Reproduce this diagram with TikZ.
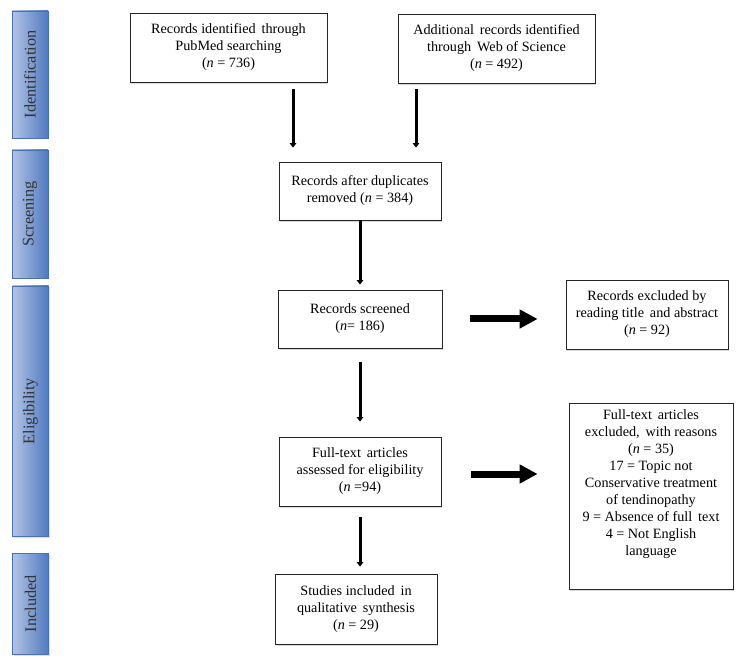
\documentclass[tikz,border=0pt]{standalone}
\usepackage{fontspec}
\setmainfont{Liberation Serif}
\usetikzlibrary{arrows.meta,shadows,calc}
\definecolor{barL}{RGB}{178,196,230}
\definecolor{barR}{RGB}{80,122,192}
\definecolor{barD}{RGB}{72,112,178}
\begin{document}
\begin{tikzpicture}[x=1pt,y=-1pt,
  box/.style={draw=black!85, line width=0.8pt, fill=white, align=center, inner sep=0pt,
    font=\fontsize{14.2}{17}\selectfont,
    drop shadow={shadow xshift=1.2pt,shadow yshift=-1.8pt,opacity=0.3}},
  bar/.style={draw=barD, line width=0.6pt, left color=barL, right color=barR, inner sep=0pt,
    minimum width=36pt,
    drop shadow={shadow xshift=1.2pt,shadow yshift=-1.5pt,opacity=0.25}},
  bartext/.style={rotate=90, font=\fontsize{16.3}{18}\selectfont, text=black!80},
  thinarrow/.style={line width=3pt, -{Triangle[width=6.5pt,length=4.5pt]}},
  blockarrow/.style={line width=7pt, -{Triangle[width=18pt,length=18pt]}}]
\useasboundingbox (0,0) rectangle (742,660);

% phase bars
\node[bar, minimum height=127pt, label={[bartext]center:Identification}] (pid) at (30,74.5) {};
\node[bar, minimum height=128pt, label={[bartext]center:Screening}] (psc) at (30,214) {};
\node[bar, minimum height=250pt, label={[bartext]center:Eligibility}] (pel) at (30.5,411) {};
\node[bar, minimum height=101pt, label={[bartext]center:Included}] (pin) at (30.5,603.5) {};

% boxes
\node[box, minimum width=197pt, minimum height=69pt] (b1) at (228.5,47.5)
  {Records identified\, through\\PubMed searching\\(\textit{n} = 736)};
\node[box, minimum width=197pt, minimum height=69pt] (b2) at (496.5,48.5)
  {Additional\, records identified\\through\, Web of Science\\(\textit{n} = 492)};
\node[box, minimum width=162pt, minimum height=58pt] (b3) at (360,191)
  {Records after duplicates\\removed (\textit{n} = 384)};
\node[box, minimum width=164pt, minimum height=58pt] (b4) at (360,319)
  {Records screened\\(\textit{n}= 186)};
\node[box, minimum width=162pt, minimum height=69pt] (b5) at (647,314.5)
  {Records excluded by\\reading title\, and abstract\\(\textit{n} = 92)};
\node[box, minimum width=162pt, minimum height=69pt] (b6) at (360,471.5)
  {Full-text\, articles\\assessed for eligibility\\(\textit{n} =94)};
\node[box, minimum width=162pt, minimum height=70pt] (b7) at (356,609)
  {Studies included\, in\\qualitative\, synthesis\\(\textit{n} = 29)};
\node[box, minimum width=164pt, minimum height=186pt] (b8) at (651,496)
  {\parbox[c][172pt][t]{162pt}{\centering
   Full-text\, articles\\excluded,\, with reasons\\(\textit{n} = 35)\\17 = Topic not\\Conservative treatment\\of tendinopathy\\9 = Absence of full\, text\\4 = Not English\\language}};

% vertical arrows
\draw[thinarrow] ([xshift=64.5pt,yshift=-7pt]b1.south) -- ([xshift=-67pt,yshift=14pt]b3.north);
\draw[thinarrow] ([xshift=-80.5pt,yshift=-6pt]b2.south) -- ([xshift=56pt,yshift=14pt]b3.north);
\draw[thinarrow] (b3.south) -- ([yshift=5pt]b4.north);
\draw[thinarrow] ([yshift=-14pt]b4.south) -- ([yshift=15pt]b6.north);
\draw[thinarrow] ([yshift=-11pt]b6.south) -- ([xshift=4pt,yshift=7pt]b7.north);

% horizontal block arrows
\draw[blockarrow] ($(b4.east)+(28,0)$) -- ($(b4.east -| b5.west)+(-28,0)$);
\draw[blockarrow] ($(b6.east)+(30,2.5)$) -- ($(b6.east -| b8.west)+(-31,2.5)$);
\end{tikzpicture}
\end{document}
